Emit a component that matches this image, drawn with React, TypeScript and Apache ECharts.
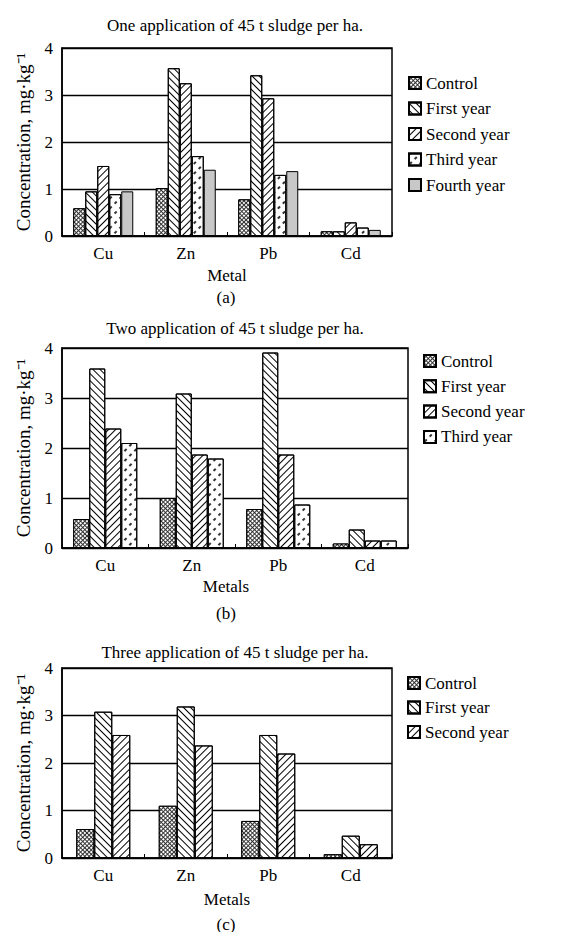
import React, { useEffect, useRef } from "react";
import * as echarts from "echarts";

const metals = ["Cu", "Zn", "Pb", "Cd"];
const seriesNames = ["Control", "First year", "Second year", "Third year", "Fourth year"];
const yTicks = [0, 1, 2, 3, 4];

// (a) One application
const aControl = [0.59, 1.02, 0.78, 0.1];
const aFirst = [0.95, 3.57, 3.42, 0.1];
const aSecond = [1.49, 3.25, 2.93, 0.29];
const aThird = [0.89, 1.7, 1.3, 0.18];
const aFourth = [0.95, 1.41, 1.38, 0.13];

// (b) Two applications
const bControl = [0.58, 1.0, 0.78, 0.09];
const bFirst = [3.59, 3.09, 3.91, 0.37];
const bSecond = [2.39, 1.87, 1.87, 0.15];
const bThird = [2.1, 1.79, 0.87, 0.15];

// (c) Three applications
const cControl = [0.61, 1.1, 0.78, 0.08];
const cFirst = [3.08, 3.19, 2.59, 0.47];
const cSecond = [2.59, 2.37, 2.2, 0.29];

const titles = [
  "One application of 45 t sludge per ha.",
  "Two application of 45 t sludge per ha.",
  "Three application of 45 t sludge per ha.",
];
const xNames = ["Metal", "Metals", "Metals"];
const captions = ["(a)", "(b)", "(c)"];
const yName = "Concentration, mg·kg⁻¹";

const FONT = '"Liberation Serif", "Times New Roman", Times, serif';

const styleFor: Record<string, any> = {
  Control: {
    color: "#333333",
    decal: { symbol: "rect", color: "#ffffff", dashArrayX: [2, 1], dashArrayY: [2, 1], rotation: Math.PI / 4, symbolSize: 1 },
  },
  "First year": {
    color: "#ffffff",
    decal: { symbol: "rect", color: "#000000", dashArrayX: [1, 0], dashArrayY: [1, 4], rotation: Math.PI / 4, symbolSize: 1 },
  },
  "Second year": {
    color: "#ffffff",
    decal: { symbol: "rect", color: "#000000", dashArrayX: [1, 0], dashArrayY: [1, 4], rotation: -Math.PI / 4, symbolSize: 1 },
  },
  "Third year": {
    color: "#ffffff",
    decal: { symbol: "rect", color: "#333333", dashArrayX: [3, 4], dashArrayY: [1.2, 5], rotation: -Math.PI / 4, symbolSize: 1 },
  },
  "Fourth year": { color: "#c8c8c8" },
};

const panels = [
  { grid: { left: 62, top: 48, width: 330, height: 188 }, barWidth: 12, data: [aControl, aFirst, aSecond, aThird, aFourth], titleY: 22, nameGap: 31, capY: 297, legend: { left: 403, top: 69.5, gap: 8.5 } },
  { grid: { left: 62, top: 348, width: 346, height: 200 }, barWidth: 16, data: [bControl, bFirst, bSecond, bThird], titleY: 325, nameGap: 30, capY: 613, legend: { left: 418, top: 347.5, gap: 8.3 } },
  { grid: { left: 62, top: 668, width: 330, height: 190 }, barWidth: 18, data: [cControl, cFirst, cSecond], titleY: 649, nameGap: 33, capY: 924, legend: { left: 402, top: 669.5, gap: 7.5 } },
];

export default function App() {
  const ref = useRef<HTMLDivElement>(null);
  useEffect(() => {
    if (!ref.current) return;
    const chart = echarts.init(ref.current, undefined, { renderer: "svg" });
    const txt = { fontFamily: FONT, fontSize: 17, color: "#000" };
    const option: any = {
      animation: false,
      backgroundColor: "#fff",
      title: panels.map((p, i) => ({
        text: titles[i],
        left: 230,
        top: p.titleY - 10,
        textAlign: "center",
        textStyle: { ...txt, fontWeight: "normal" },
      })),
      grid: panels.map((p) => ({ ...p.grid, show: true, borderColor: "#000", borderWidth: 1.5, backgroundColor: "transparent" })),
      legend: panels.map((p) => ({
        orient: "vertical",
        left: p.legend.left,
        top: p.legend.top,
        itemWidth: 12,
        itemHeight: 12,
        itemGap: p.legend.gap,
        icon: "rect",
        textStyle: { ...txt, lineHeight: 17 },
        data: seriesNames.slice(0, p.data.length),
        selectedMode: false,
      })),
      xAxis: panels.map((p, i) => ({
        type: "category",
        gridIndex: i,
        data: metals,
        axisLine: { lineStyle: { color: "#000", width: 1.5 } },
        axisTick: { show: true, inside: true, length: 4, interval: 0, lineStyle: { color: "#000" } },
        axisLabel: { ...txt, margin: 9 },
        name: xNames[i],
        nameLocation: "middle",
        nameGap: p.nameGap,
        nameTextStyle: i === 1 ? { ...txt, padding: [0, 18, 0, 0] } : txt,
      })),
      yAxis: panels.map((p, i) => ({
        type: "value",
        gridIndex: i,
        min: yTicks[0],
        max: yTicks[yTicks.length - 1],
        interval: 1,
        axisLine: { show: true, lineStyle: { color: "#000", width: 1.5 } },
        axisTick: { show: false },
        axisLabel: { ...txt, margin: 9 },
        splitLine: { show: true, lineStyle: { color: "#000", width: 1.3 } },
        name: yName,
        nameLocation: "middle",
        nameGap: 29,
        nameTextStyle: { ...txt, fontSize: 19 },
      })),
      graphic: panels.map((p, i) => ({
        type: "text",
        x: 226,
        y: p.capY,
        style: { text: captions[i], font: `17px ${FONT}`, fill: "#000", textAlign: "center", textVerticalAlign: "middle" },
      })),
      series: panels.flatMap((p, i) =>
        p.data.map((vals, k) => ({
          type: "bar",
          name: seriesNames[k],
          xAxisIndex: i,
          yAxisIndex: i,
          data: vals,
          barWidth: p.barWidth,
          barGap: "0%",
          itemStyle: { ...styleFor[seriesNames[k]], borderColor: "#000", borderWidth: 1 },
          emphasis: { disabled: true },
        }))
      ),
    };
    chart.setOption(option);
    return () => chart.dispose();
  }, []);
  return <div ref={ref} style={{ position: "absolute", left: 0, top: 0, width: 565, height: 932 }} />;
}
